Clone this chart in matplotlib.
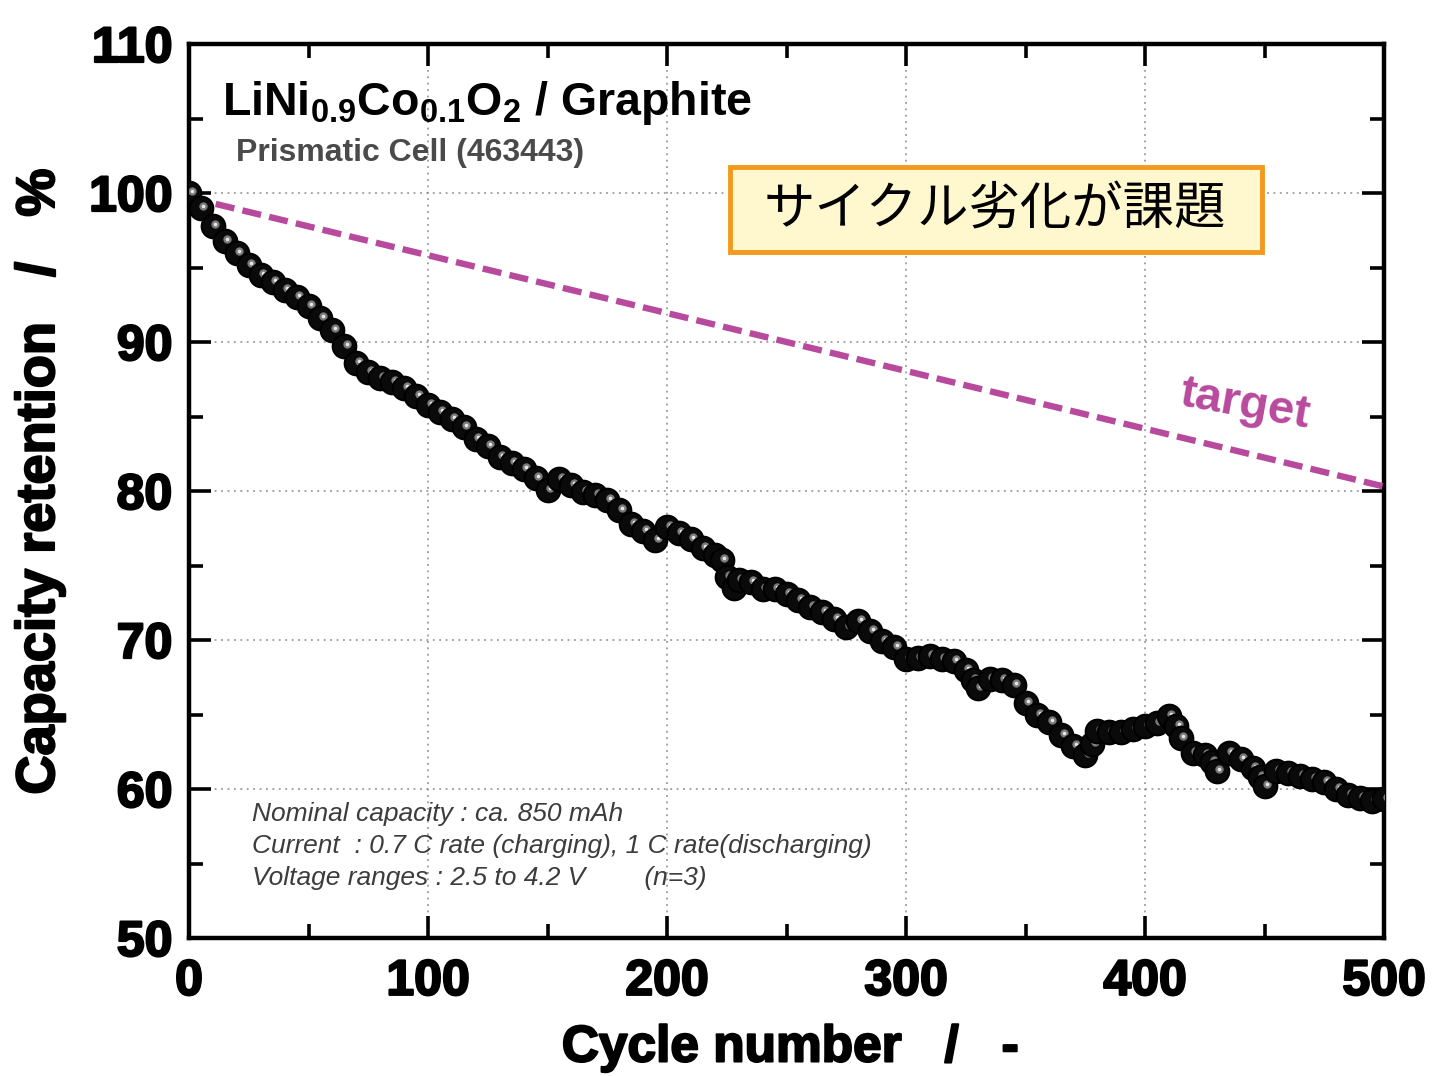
import matplotlib
matplotlib.use("Agg")
import matplotlib.pyplot as plt
from matplotlib import font_manager
from matplotlib.ticker import MultipleLocator
from matplotlib.patches import Rectangle
import matplotlib.patheffects as pe
import matplotlib.transforms as mtransforms

# ---------------- data ----------------
cycles = [
    0, 5, 10, 15, 20, 25, 30, 35, 40, 45,
    50, 55, 60, 65, 70, 75, 80, 85, 90, 95,
    100, 105, 110, 115, 120, 125, 130, 135, 140, 145,
    150, 155, 160, 165, 170, 175, 180, 185, 190, 195,
    200, 205, 210, 215, 220, 223, 225, 228, 230, 235, 240, 245,
    250, 255, 260, 265, 270, 275, 280, 285, 290, 295,
    300, 305, 310, 315, 320, 325, 328, 330, 335, 340, 345,
    350, 355, 360, 365, 370, 375, 378, 380, 385, 390, 395,
    400, 405, 410, 413, 415, 420, 425, 428, 430, 435, 440, 445,
    448, 450, 455, 460, 465, 470, 475, 480, 485, 490, 495,
    500,
]
retention = [
    100.0, 99.0, 97.8, 96.8, 96.0, 95.2, 94.5, 94.0, 93.5, 93.0,
    92.4, 91.6, 90.8, 89.7, 88.6, 88.0, 87.6, 87.3, 86.9, 86.4,
    85.8, 85.3, 84.8, 84.3, 83.5, 83.0, 82.3, 81.9, 81.5, 80.9,
    80.1, 80.8, 80.4, 79.9, 79.7, 79.4, 78.7, 77.8, 77.3, 76.7,
    77.6, 77.2, 76.8, 76.2, 75.7, 75.4, 74.2, 73.5, 74.0, 73.9, 73.4, 73.4,
    73.1, 72.7, 72.2, 71.9, 71.4, 70.9, 71.3, 70.6, 69.9, 69.5,
    68.7, 68.8, 68.9, 68.7, 68.6, 68.0, 67.3, 66.8, 67.4, 67.3, 67.0,
    65.8, 65.0, 64.5, 63.6, 62.9, 62.3, 63.0, 63.9, 63.8, 63.8, 64.0,
    64.2, 64.4, 64.9, 64.2, 63.4, 62.4, 62.3, 61.8, 61.2, 62.4, 62.0, 61.4,
    60.8, 60.2, 61.2, 61.1, 60.9, 60.7, 60.5, 60.0, 59.6, 59.4, 59.2,
    59.3,
]
target_cycles = [0, 500]
target_values = [99.7, 80.3]

xticks = [0, 100, 200, 300, 400, 500]
yticks = [50, 60, 70, 80, 90, 100, 110]

title_text = r"LiNi$_{0.9}$Co$_{0.1}$O$_2$ / Graphite"
subtitle_text = "Prismatic Cell (463443)"
box_text = "サイクル劣化が課題"
target_text = "target"
notes = [
    "Nominal capacity : ca. 850 mAh",
    "Current  : 0.7 C rate (charging), 1 C rate(discharging)",
    "Voltage ranges : 2.5 to 4.2 V        (n=3)",
]
xlabel_text = "Cycle number   /   -"
ylabel_text = "Capacity retention   /   %"

# ---------------- fonts ----------------
available = {f.name for f in font_manager.fontManager.ttflist}
def pick(*names):
    for n in names:
        if n in available:
            return n
    return "DejaVu Sans"

main_font = pick("Liberation Sans", "Arial", "DejaVu Sans")
narrow_font = pick("Liberation Sans Narrow", "Liberation Sans", "DejaVu Sans")
cjk_font = pick("Noto Sans CJK JP", "Noto Sans CJK SC")

plt.rcParams["font.family"] = [main_font, "DejaVu Sans"]
plt.rcParams["mathtext.fontset"] = "custom"
plt.rcParams["mathtext.rm"] = main_font + ":bold"
plt.rcParams["mathtext.bf"] = main_font + ":bold"
plt.rcParams["mathtext.it"] = main_font + ":bold"
plt.rcParams["mathtext.default"] = "bf"

W, H = 1436, 1076
fig = plt.figure(figsize=(W / 100, H / 100), dpi=100)
L, R, T, B = 189, 1384, 44, 938
ax = fig.add_axes([L / W, 1 - B / H, (R - L) / W, (B - T) / H])

ax.set_xlim(0, 500)
ax.set_ylim(50, 110)
ax.set_xticks(xticks)
ax.set_yticks(yticks)
ax.xaxis.set_minor_locator(MultipleLocator(50))
ax.yaxis.set_minor_locator(MultipleLocator(5))
ax.grid(True, which="major", linestyle=(0, (1.2, 3)), color="#8a8a8a", linewidth=1.1)
ax.set_axisbelow(True)

for s in ax.spines.values():
    s.set_linewidth(3.2)
ax.tick_params(which="major", direction="in", length=16, width=2.6,
               top=True, right=True, labelsize=36, pad=12)
ax.tick_params(which="minor", direction="in", length=10, width=2.6,
               top=True, right=True)
heavy = [pe.withStroke(linewidth=1.6, foreground="black")]
for lab in ax.get_xticklabels() + ax.get_yticklabels():
    lab.set_fontweight("bold")
    lab.set_fontfamily(main_font)
    lab.set_path_effects(heavy)
ax.tick_params(axis="x", which="major", pad=15)

# target line
ax.plot(target_cycles, target_values, color="#B84A9E", linewidth=4.6,
        dashes=(3.0, 1.3), zorder=3, dash_capstyle="butt")

# data markers (sphere-like): dark disk followed by grey highlight, per point
hl = mtransforms.offset_copy(ax.transData, fig=fig, x=2.5, y=2.0, units="dots")
for i, (cx, cy) in enumerate(zip(cycles, retention)):
    z = 4 + i * 0.01
    ax.plot([cx], [cy], marker="o", markersize=17, markerfacecolor="#0a0a0a",
            markeredgecolor="black", markeredgewidth=1.5, linestyle="none", zorder=z)
    ax.plot([cx], [cy], marker="o", markersize=6.0, markerfacecolor="#7a7a7a",
            markeredgecolor="none", linestyle="none", zorder=z + 0.003, transform=hl)
    ax.plot([cx], [cy], marker="o", markersize=2.6, markerfacecolor="#e8e8e8",
            markeredgecolor="none", linestyle="none", zorder=z + 0.006, transform=hl)

# title texts
fig.text(222 / W, 1 - 103 / H, title_text, fontsize=33.5, fontweight="bold",
         family=main_font, ha="left", va="center", color="black")
fig.text(236 / W, 1 - 153 / H, subtitle_text, fontsize=23, fontweight="bold",
         family=main_font, ha="left", va="center", color="#4a4a4a")

# Japanese box
fig.add_artist(Rectangle((730 / W, 1 - 252 / H), (1262 - 730) / W, (252 - 167) / H,
                         transform=fig.transFigure, facecolor="#FFF8CE",
                         edgecolor="#F39A1E", linewidth=3.5, zorder=5))
fig.text(995 / W, 1 - 210 / H, box_text, fontsize=37,
         family=[cjk_font, "DejaVu Sans"], ha="center", va="center", color="black",
         zorder=6)

# target label
fig.text(1245 / W, 1 - 405 / H, target_text, fontsize=34, fontweight="bold",
         family=main_font, color="#B84A9E", ha="center", va="center", rotation=-10)

# notes
for k, line in enumerate(notes):
    fig.text(252 / W, 1 - (814 + 32 * k) / H, line, fontsize=19, style="italic",
             family=narrow_font, color="#3c3c3c", ha="left", va="center")

# axis labels
fig.text(790 / W, 1 - 1048 / H, xlabel_text, fontsize=37, fontweight="bold",
         family=narrow_font, ha="center", va="center",
         path_effects=[pe.withStroke(linewidth=1.5, foreground="black")])
fig.text(40 / W, 1 - 482 / H, ylabel_text, fontsize=39, fontweight="bold",
         family=narrow_font, ha="center", va="center", rotation=90,
         path_effects=[pe.withStroke(linewidth=1.5, foreground="black")])

fig.savefig("out.png", dpi=100)
